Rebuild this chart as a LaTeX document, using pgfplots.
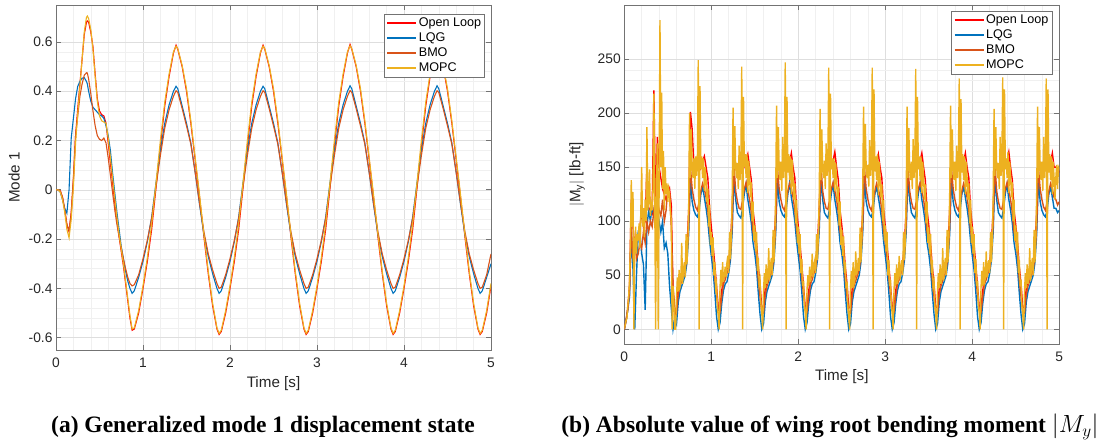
\documentclass[border=0pt]{standalone}
\usepackage{pgfplots}
\pgfplotsset{compat=1.18}
\usepackage{pgfplotstable}
\usepackage{fontspec}
\setmainfont{Liberation Sans}
\newfontfamily\capfont{Liberation Serif}

\definecolor{olred}{rgb}{1,0,0}
\definecolor{lqgblue}{rgb}{0,0.447,0.741}
\definecolor{bmoorange}{rgb}{0.851,0.325,0.098}
\definecolor{mopcyellow}{rgb}{0.929,0.694,0.125}
\definecolor{axgray}{rgb}{0.45,0.45,0.45}
\definecolor{txtgray}{rgb}{0.15,0.15,0.15}

% Generalized mode 1 displacement: t, Open Loop, LQG, BMO, MOPC
\pgfplotstableread{
t ol lqg bmo mopc
0.000 0 0 0 0
0.025 0 0 0 0
0.050 -0.005 -0.010 -0.005 -0.010
0.075 -0.030 -0.040 -0.030 -0.040
0.100 -0.080 -0.075 -0.080 -0.090
0.125 -0.140 -0.095 -0.140 -0.160
0.150 -0.170 0.000 -0.165 -0.195
0.175 -0.090 0.210 -0.100 -0.120
0.200 0.040 0.290 0.050 0.010
0.225 0.220 0.370 0.220 0.190
0.250 0.330 0.420 0.300 0.310
0.275 0.430 0.440 0.380 0.420
0.300 0.530 0.453 0.430 0.530
0.325 0.630 0.455 0.465 0.640
0.350 0.680 0.440 0.475 0.700
0.360 0.685 0.430 0.474 0.705
0.375 0.680 0.400 0.450 0.695
0.400 0.640 0.360 0.390 0.650
0.425 0.580 0.335 0.320 0.570
0.450 0.470 0.325 0.260 0.460
0.475 0.370 0.315 0.220 0.360
0.500 0.320 0.305 0.205 0.300
0.525 0.305 0.300 0.200 0.280
0.550 0.300 0.290 0.210 0.275
0.575 0.270 0.260 0.190 0.270
0.600 0.190 0.220 0.130 0.210
0.625 0.110 0.160 0.060 0.130
0.650 0.030 0.070 -0.010 0.050
0.675 -0.050 -0.010 -0.080 -0.030
0.700 -0.120 -0.090 -0.140 -0.110
0.725 -0.190 -0.160 -0.190 -0.180
0.750 -0.250 -0.230 -0.235 -0.240
0.775 -0.310 -0.280 -0.280 -0.300
0.800 -0.380 -0.330 -0.320 -0.370
0.825 -0.450 -0.370 -0.355 -0.440
0.850 -0.520 -0.400 -0.380 -0.510
0.875 -0.570 -0.420 -0.390 -0.565
0.900 -0.565 -0.410 -0.385 -0.560
0.950 -0.500 -0.355 -0.345 -0.490
1.000 -0.400 -0.290 -0.280 -0.390
1.050 -0.290 -0.210 -0.205 -0.275
1.100 -0.160 -0.110 -0.115 -0.140
1.150 0.010 0.030 0.015 0.030
1.200 0.180 0.160 0.140 0.200
1.250 0.340 0.270 0.250 0.355
1.300 0.460 0.345 0.325 0.470
1.350 0.555 0.400 0.380 0.560
1.380 0.587 0.420 0.402 0.583
1.400 0.570 0.410 0.395 0.573
1.450 0.500 0.340 0.330 0.505
1.500 0.400 0.270 0.260 0.410
1.550 0.270 0.190 0.185 0.280
1.600 0.120 0.070 0.070 0.130
1.650 -0.030 -0.060 -0.055 -0.020
1.700 -0.190 -0.180 -0.170 -0.180
1.750 -0.340 -0.270 -0.260 -0.330
1.800 -0.470 -0.340 -0.325 -0.460
1.850 -0.565 -0.400 -0.380 -0.560
1.875 -0.587 -0.420 -0.400 -0.583
1.900 -0.575 -0.410 -0.395 -0.570
1.950 -0.500 -0.355 -0.345 -0.490
2.000 -0.400 -0.290 -0.280 -0.390
2.050 -0.290 -0.210 -0.205 -0.275
2.100 -0.160 -0.110 -0.115 -0.140
2.150 0.010 0.030 0.015 0.030
2.200 0.180 0.160 0.140 0.200
2.250 0.340 0.270 0.250 0.355
2.300 0.460 0.345 0.325 0.470
2.350 0.555 0.400 0.380 0.560
2.380 0.587 0.420 0.402 0.583
2.400 0.570 0.410 0.395 0.573
2.450 0.500 0.340 0.330 0.505
2.500 0.400 0.270 0.260 0.410
2.550 0.270 0.190 0.185 0.280
2.600 0.120 0.070 0.070 0.130
2.650 -0.030 -0.060 -0.055 -0.020
2.700 -0.190 -0.180 -0.170 -0.180
2.750 -0.340 -0.270 -0.260 -0.330
2.800 -0.470 -0.340 -0.325 -0.460
2.850 -0.565 -0.400 -0.380 -0.560
2.875 -0.587 -0.420 -0.400 -0.583
2.900 -0.575 -0.410 -0.395 -0.570
2.950 -0.500 -0.355 -0.345 -0.490
3.000 -0.400 -0.290 -0.280 -0.390
3.050 -0.290 -0.210 -0.205 -0.275
3.100 -0.160 -0.110 -0.115 -0.140
3.150 0.010 0.030 0.015 0.030
3.200 0.180 0.160 0.140 0.200
3.250 0.340 0.270 0.250 0.355
3.300 0.460 0.345 0.325 0.470
3.350 0.555 0.400 0.380 0.560
3.380 0.590 0.422 0.403 0.585
3.400 0.570 0.410 0.395 0.573
3.450 0.500 0.340 0.330 0.505
3.500 0.400 0.270 0.260 0.410
3.550 0.270 0.190 0.185 0.280
3.600 0.120 0.070 0.070 0.130
3.650 -0.030 -0.060 -0.055 -0.020
3.700 -0.190 -0.180 -0.170 -0.180
3.750 -0.340 -0.270 -0.260 -0.330
3.800 -0.470 -0.340 -0.325 -0.460
3.850 -0.565 -0.400 -0.380 -0.560
3.875 -0.587 -0.420 -0.400 -0.583
3.900 -0.575 -0.410 -0.395 -0.570
3.950 -0.500 -0.355 -0.345 -0.490
4.000 -0.400 -0.290 -0.280 -0.390
4.050 -0.290 -0.210 -0.205 -0.275
4.100 -0.160 -0.110 -0.115 -0.140
4.150 0.010 0.030 0.015 0.030
4.200 0.180 0.160 0.140 0.200
4.250 0.340 0.270 0.250 0.355
4.300 0.460 0.345 0.325 0.470
4.350 0.555 0.400 0.380 0.560
4.380 0.587 0.422 0.402 0.583
4.400 0.570 0.410 0.395 0.573
4.450 0.500 0.340 0.330 0.505
4.500 0.400 0.270 0.260 0.410
4.550 0.270 0.190 0.185 0.280
4.600 0.120 0.070 0.070 0.130
4.650 -0.030 -0.060 -0.055 -0.020
4.700 -0.190 -0.180 -0.170 -0.180
4.750 -0.340 -0.270 -0.260 -0.330
4.800 -0.470 -0.340 -0.325 -0.460
4.850 -0.565 -0.400 -0.380 -0.560
4.875 -0.587 -0.420 -0.400 -0.583
4.900 -0.575 -0.410 -0.395 -0.570
4.950 -0.500 -0.355 -0.345 -0.490
5.000 -0.390 -0.300 -0.260 -0.380
}\modedata

% |M_y| [lb-ft], MOPC sampled every 0.01 s
\pgfplotstableread[row sep=\\]{
y\\
0\\ 4\\ 8\\ 10\\ 22\\ 30\\ 45\\ 80\\ 138\\ 95\\
127\\ 0\\ 75\\ 95\\ 70\\ 88\\ 82\\ 98\\ 75\\ 110\\
150\\ 95\\ 112\\ 85\\ 120\\ 100\\ 187\\ 110\\ 120\\ 148\\
105\\ 115\\ 110\\ 130\\ 218\\ 120\\ 0\\ 130\\ 172\\ 0\\
130\\ 286\\ 150\\ 219\\ 130\\ 165\\ 110\\ 150\\ 125\\ 135\\
118\\ 130\\ 125\\ 110\\ 100\\ 0\\ 40\\ 25\\ 0\\
0\\ 30\\ 48\\ 35\\ 55\\ 40\\ 45\\ 80\\ 42\\ 55\\
62\\ 48\\ 88\\ 60\\ 80\\ 115\\ 200\\ 140\\ 185\\ 150\\
140\\ 158\\ 130\\ 160\\ 142\\ 155\\ 249\\ 0\\ 225\\ 148\\
160\\ 140\\ 158\\ 128\\ 150\\ 138\\ 118\\ 130\\ 95\\ 115\\
78\\ 90\\ 68\\ 85\\ 50\\ 62\\ 38\\ 42\\ 20\\ 12\\
0\\ 38\\ 55\\ 40\\ 62\\ 44\\ 50\\ 58\\ 48\\ 62\\
68\\ 52\\ 90\\ 65\\ 88\\ 122\\ 205\\ 142\\ 188\\ 150\\
140\\ 154\\ 130\\ 170\\ 138\\ 156\\ 243\\ 0\\ 215\\ 150\\
162\\ 140\\ 162\\ 126\\ 156\\ 142\\ 122\\ 136\\ 100\\ 118\\
82\\ 96\\ 72\\ 90\\ 54\\ 66\\ 42\\ 46\\ 24\\ 16\\
0\\ 35\\ 52\\ 38\\ 60\\ 42\\ 48\\ 75\\ 45\\ 58\\
66\\ 50\\ 92\\ 62\\ 85\\ 125\\ 207\\ 140\\ 187\\ 150\\
138\\ 155\\ 128\\ 178\\ 140\\ 158\\ 247\\ 0\\ 215\\ 145\\
162\\ 138\\ 160\\ 125\\ 157\\ 140\\ 120\\ 135\\ 98\\ 120\\
80\\ 95\\ 70\\ 88\\ 52\\ 65\\ 40\\ 45\\ 22\\ 15\\
0\\ 36\\ 50\\ 40\\ 58\\ 44\\ 52\\ 70\\ 48\\ 60\\
64\\ 52\\ 88\\ 64\\ 86\\ 120\\ 204\\ 138\\ 185\\ 148\\
140\\ 156\\ 130\\ 172\\ 142\\ 156\\ 242\\ 0\\ 218\\ 148\\
158\\ 140\\ 158\\ 128\\ 154\\ 138\\ 118\\ 132\\ 96\\ 118\\
78\\ 92\\ 68\\ 86\\ 52\\ 62\\ 38\\ 44\\ 20\\ 12\\
0\\ 38\\ 54\\ 38\\ 62\\ 42\\ 46\\ 72\\ 50\\ 56\\
66\\ 54\\ 94\\ 62\\ 84\\ 124\\ 206\\ 142\\ 190\\ 150\\
140\\ 152\\ 132\\ 175\\ 142\\ 158\\ 242\\ 0\\ 222\\ 146\\
160\\ 138\\ 162\\ 124\\ 155\\ 140\\ 122\\ 134\\ 100\\ 120\\
82\\ 96\\ 72\\ 90\\ 50\\ 64\\ 40\\ 46\\ 22\\ 14\\
0\\ 36\\ 52\\ 40\\ 60\\ 42\\ 50\\ 68\\ 46\\ 58\\
64\\ 50\\ 90\\ 64\\ 82\\ 122\\ 206\\ 140\\ 186\\ 148\\
138\\ 155\\ 130\\ 176\\ 140\\ 156\\ 241\\ 0\\ 215\\ 148\\
160\\ 138\\ 160\\ 126\\ 155\\ 140\\ 120\\ 134\\ 98\\ 118\\
80\\ 94\\ 70\\ 88\\ 52\\ 64\\ 40\\ 44\\ 22\\ 14\\
0\\ 35\\ 52\\ 38\\ 60\\ 42\\ 48\\ 75\\ 45\\ 58\\
66\\ 50\\ 92\\ 62\\ 85\\ 125\\ 207\\ 140\\ 185\\ 150\\
138\\ 155\\ 128\\ 170\\ 140\\ 158\\ 232\\ 0\\ 213\\ 145\\
162\\ 138\\ 160\\ 125\\ 155\\ 140\\ 120\\ 135\\ 98\\ 120\\
80\\ 95\\ 70\\ 88\\ 52\\ 65\\ 40\\ 45\\ 22\\ 15\\
0\\ 38\\ 54\\ 40\\ 62\\ 44\\ 48\\ 72\\ 48\\ 58\\
64\\ 52\\ 90\\ 62\\ 84\\ 122\\ 204\\ 142\\ 187\\ 150\\
140\\ 154\\ 130\\ 178\\ 142\\ 156\\ 233\\ 0\\ 222\\ 148\\
158\\ 140\\ 164\\ 126\\ 155\\ 142\\ 122\\ 136\\ 100\\ 120\\
82\\ 96\\ 72\\ 90\\ 52\\ 64\\ 40\\ 46\\ 22\\ 14\\
0\\ 35\\ 52\\ 38\\ 60\\ 42\\ 48\\ 75\\ 45\\ 58\\
66\\ 50\\ 92\\ 62\\ 85\\ 125\\ 206\\ 140\\ 187\\ 150\\
138\\ 155\\ 128\\ 178\\ 140\\ 158\\ 232\\ 0\\ 222\\ 145\\
162\\ 138\\ 160\\ 125\\ 155\\ 140\\ 120\\ 140\\ 152\\ 130\\
150\\ 148\\
}\mopcmoment

% Open Loop, LQG and BMO moments, sampled every 0.02 s
\pgfplotstableread[row sep=\\]{
ol lqg bmo\\
0 0 0\\ 8 8 8\\ 20 18 18\\ 40 30 35\\ 120 90 95\\ 95 55 65\\ 75 0 85\\ 80 50 65\\ 85 90 70\\ 95 88 80\\
110 70 75\\ 95 60 90\\ 100 18 80\\ 150 95 100\\ 110 110 90\\ 112 100 100\\ 108 115 95\\ 221 105 110\\ 110 95 100\\ 178 110 120\\
150 100 110\\ 140 90 105\\ 130 100 120\\ 125 75 100\\ 120 80 110\\ 125 70 130\\ 130 40 125\\ 115 20 95\\ 35 0 40\\ 12 10 20\\
20 5 15\\ 38 25 32\\ 45 35 40\\ 50 40 45\\ 55 45 50\\ 60 50 55\\ 75 62 68\\ 110 88 95\\ 201 140 150\\ 185 118 130\\
150 110 120\\ 148 106 113\\ 150 104 110\\ 146 110 118\\ 150 125 128\\ 155 132 135\\ 160 122 130\\ 150 112 122\\ 140 100 110\\ 112 82 92\\
95 68 80\\ 78 55 66\\ 60 35 48\\ 40 12 32\\ 20 0 18\\
22 6 16\\ 36 24 30\\ 46 36 42\\ 52 42 46\\ 56 44 52\\ 62 52 56\\ 78 64 70\\ 112 90 98\\ 158 142 152\\ 150 120 128\\
150 108 118\\ 147 105 112\\ 151 103 111\\ 145 112 120\\ 152 126 130\\ 156 134 136\\ 162 120 128\\ 150 110 120\\ 138 98 108\\ 110 80 90\\
96 70 82\\ 80 56 68\\ 58 34 46\\ 42 14 30\\ 20 0 16\\
20 5 15\\ 38 25 32\\ 45 35 40\\ 50 40 45\\ 55 45 50\\ 60 50 55\\ 75 62 68\\ 110 88 95\\ 160 140 150\\ 152 118 130\\
150 110 120\\ 148 106 113\\ 150 104 110\\ 146 110 118\\ 150 125 128\\ 155 136 135\\ 163 122 130\\ 150 112 122\\ 140 100 110\\ 112 82 92\\
95 68 80\\ 78 55 66\\ 60 35 48\\ 40 12 32\\ 20 0 18\\
22 6 16\\ 36 24 30\\ 46 36 42\\ 52 42 46\\ 56 44 52\\ 62 52 56\\ 78 64 70\\ 112 90 98\\ 158 142 152\\ 150 120 128\\
150 108 118\\ 147 105 112\\ 151 103 111\\ 145 112 120\\ 152 126 130\\ 156 134 136\\ 164 120 128\\ 150 110 120\\ 138 98 108\\ 110 80 90\\
96 70 82\\ 80 56 68\\ 58 34 46\\ 42 14 30\\ 20 0 16\\
20 5 15\\ 38 25 32\\ 45 35 40\\ 50 40 45\\ 55 45 50\\ 60 50 55\\ 75 62 68\\ 110 88 95\\ 160 140 150\\ 152 118 130\\
150 110 120\\ 148 106 113\\ 150 104 110\\ 146 110 118\\ 150 125 128\\ 155 132 135\\ 162 122 130\\ 150 112 122\\ 140 100 110\\ 112 82 92\\
95 68 80\\ 78 55 66\\ 60 35 48\\ 40 12 32\\ 20 0 18\\
22 6 16\\ 36 24 30\\ 46 36 42\\ 52 42 46\\ 56 44 52\\ 62 52 56\\ 78 64 70\\ 112 90 98\\ 158 142 152\\ 150 120 128\\
150 108 118\\ 147 105 112\\ 151 103 111\\ 145 112 120\\ 152 126 130\\ 156 134 136\\ 163 120 128\\ 150 110 120\\ 138 98 108\\ 110 80 90\\
96 70 82\\ 80 56 68\\ 58 34 46\\ 42 14 30\\ 20 0 16\\
20 5 15\\ 38 25 32\\ 45 35 40\\ 50 40 45\\ 55 45 50\\ 60 50 55\\ 75 62 68\\ 110 88 95\\ 160 140 150\\ 152 118 130\\
150 110 120\\ 148 106 113\\ 150 104 110\\ 146 110 118\\ 150 125 128\\ 155 132 135\\ 163 122 130\\ 150 112 122\\ 140 100 110\\ 112 82 92\\
95 68 80\\ 78 55 66\\ 60 35 48\\ 40 12 32\\ 20 0 18\\
22 6 16\\ 36 24 30\\ 46 36 42\\ 52 42 46\\ 56 44 52\\ 62 52 56\\ 78 64 70\\ 112 90 98\\ 158 142 152\\ 150 120 128\\
150 108 118\\ 147 105 112\\ 151 103 111\\ 145 112 120\\ 152 126 130\\ 156 134 136\\ 164 120 128\\ 150 110 120\\ 138 98 108\\ 110 80 90\\
96 70 82\\ 80 56 68\\ 58 34 46\\ 42 14 30\\ 20 0 16\\
20 5 15\\ 38 25 32\\ 45 35 40\\ 50 40 45\\ 55 45 50\\ 60 50 55\\ 75 62 68\\ 110 88 95\\ 160 140 150\\ 152 118 130\\
150 110 120\\ 148 106 113\\ 150 104 110\\ 146 110 118\\ 150 125 128\\ 155 132 135\\ 163 122 130\\ 150 112 122\\ 150 112 120\\ 148 108 115\\
145 110 118\\
}\othermoment

\pgfplotsset{
  matlabstyle/.style={
    scale only axis, width=435pt,
    xmin=0, xmax=5, xtick={0,1,2,3,4,5},
    minor x tick num=4, minor y tick num=4,
    grid=both,
    major grid style={line width=0.5pt, draw=black!13},
    minor grid style={line width=0.5pt, draw=black!6},
    axis line style={draw=axgray, line width=0.7pt},
    major tick style={draw=axgray, line width=0.7pt},
    major tick length=5pt, minor tick length=0pt,
    tick align=inside,
    /pgf/number format/assume math mode=true,
    ticklabel style={font=\fontsize{13.8}{16}\selectfont, text=txtgray},
    xticklabel style={yshift=-4pt},
    label style={font=\fontsize{15.2}{18}\selectfont, text=txtgray},
    xlabel={Time [s]},
    legend cell align=left,
    legend image code/.code={\draw[#1, line width=2pt] (0pt,0pt) -- (29pt,0pt);},
    legend style={
      draw=axgray, line width=0.6pt, fill=white,
      font=\fontsize{12.6}{15}\selectfont,
      inner xsep=2pt, inner ysep=1.5pt,
      nodes={inner sep=1.5pt, text height=9.3pt, text depth=2.7pt},
      at={(1,1)}, anchor=north east,
    },
  },
}

\begin{document}
\begin{tikzpicture}
\path[use as bounding box] (0pt,0pt) rectangle (1108pt,442pt);

% (a) generalized mode 1 displacement
\begin{axis}[
  matlabstyle,
  at={(56pt,92pt)}, anchor=south west,
  height=345pt,
  ymin=-0.65, ymax=0.75,
  ytick={-0.6,-0.4,-0.2,0,0.2,0.4,0.6},
  yticklabels={-0.6,-0.4,-0.2,0,0.2,0.4,0.6},
  ylabel={Mode 1},
  xlabel style={at={(axis description cs:0.5,-0.0986)}, anchor=center},
  ylabel style={at={(axis description cs:-0.0959,0.5)}, anchor=center},
  legend style={xshift=-6pt, yshift=-9pt},
  every axis plot/.append style={line width=1.1pt},
]
\addplot[draw=olred] table[x=t, y=ol] {\modedata};
\addplot[draw=lqgblue] table[x=t, y=lqg] {\modedata};
\addplot[draw=bmoorange] table[x=t, y=bmo] {\modedata};
\addplot[draw=mopcyellow] table[x=t, y=mopc] {\modedata};
\legend{Open Loop, LQG, BMO, MOPC}
\end{axis}

% (b) absolute wing root bending moment
\begin{axis}[
  matlabstyle,
  at={(624.3pt,98pt)}, anchor=south west,
  height=339pt,
  ymin=-13.6, ymax=300,
  ytick={0,50,100,150,200,250},
  ylabel={$|$M\textsubscript{y}$|$ [lb-ft]},
  xlabel style={at={(axis description cs:0.5,-0.0965)}, anchor=center},
  ylabel style={at={(axis description cs:-0.1087,0.5)}, anchor=center},
  legend style={xshift=-7pt, yshift=-6pt},
  every axis plot/.append style={line width=1.4pt},
]
\addplot[draw=olred] table[x expr=\coordindex*0.02, y=ol] {\othermoment};
\addplot[draw=lqgblue] table[x expr=\coordindex*0.02, y=lqg] {\othermoment};
\addplot[draw=bmoorange] table[x expr=\coordindex*0.02, y=bmo] {\othermoment};
\addplot[draw=mopcyellow] table[x expr=\coordindex*0.01, y=y] {\mopcmoment};
\legend{Open Loop, LQG, BMO, MOPC}
\end{axis}

\node[font=\capfont\bfseries\fontsize{23.5}{28}\selectfont, anchor=base]
  at (263pt,9.3pt) {(a) Generalized mode 1 displacement state};
\node[font=\capfont\bfseries\fontsize{23.5}{28}\selectfont, anchor=base]
  at (830pt,9.3pt) {(b) Absolute value of wing root bending moment {\mdseries$|M_y|$}};
\end{tikzpicture}
\end{document}
